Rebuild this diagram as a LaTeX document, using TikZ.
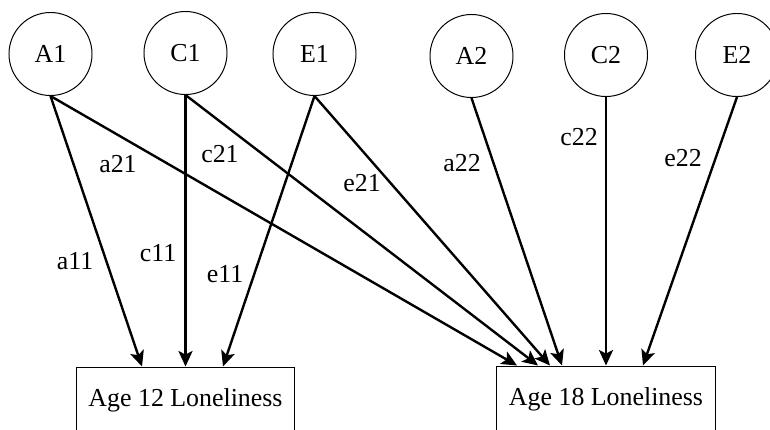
\documentclass[tikz,border=0pt]{standalone}
\usepackage{fontspec}
\setmainfont{Liberation Serif}
\usetikzlibrary{arrows.meta,calc}
\begin{document}
\begin{tikzpicture}[x=0.025cm,y=-0.025cm,
  font=\fontsize{18.4}{22}\selectfont,
  latent/.style={draw,circle,minimum size=2.075cm,inner sep=0pt,line width=0.7pt},
  observed/.style={draw,rectangle,minimum width=5.45cm,minimum height=1.65cm,line width=0.7pt},
  effect/.style={line width=1.7pt,-{Stealth[length=11pt,width=10pt,inset=2.5pt]}}]
\useasboundingbox (0,0) rectangle (770,429);
% latent factors
\node[latent] (A1) at (50.5,54) {A1};
\node[latent] (C1) at (185.5,53) {C1};
\node[latent] (E1) at (314.5,54) {E1};
\node[latent] (A2) at (471.5,56) {A2};
\node[latent] (C2) at (606,55) {C2};
\node[latent] (E2) at (737,55) {E2};
% observed
\node[observed] (age12) at (185.5,400) {Age 12 Loneliness};
\node[observed] (age18) at (606,399) {Age 18 Loneliness};
% paths to age 12
\draw[effect] (A1.south) -- ($(age12.north)+(-43.5,0)$);
\draw[effect] (C1.south) -- ($(age12.north)+(0,0)$);
\draw[effect] (E1.south) -- ($(age12.north)+(37.5,0)$);
% paths to age 18
\draw[effect] (A1.south) -- ($(age18.north)+(-89,0)$);
\draw[effect] (C1.south) -- ($(age18.north)+(-68,0)$);
\draw[effect] (E1.south) -- ($(age18.north)+(-56,0)$);
\draw[effect] (A2.south) -- ($(age18.north)+(-44,0)$);
\draw[effect] (C2.south) -- ($(age18.north)+(0,0)$);
\draw[effect] (E2.south) -- ($(age18.north)+(37,0)$);
% labels
\node (la11) at (75,261) {a11};
\node (lc11) at (158,253) {c11};
\node (le11) at (225,274) {e11};
\node (la21) at (118,164) {a21};
\node (lc21) at (220,154) {c21};
\node (le21) at (362,183) {e21};
\node (la22) at (462,163) {a22};
\node (lc22) at (579,137) {c22};
\node (le22) at (683,158) {e22};
\end{tikzpicture}
\end{document}
